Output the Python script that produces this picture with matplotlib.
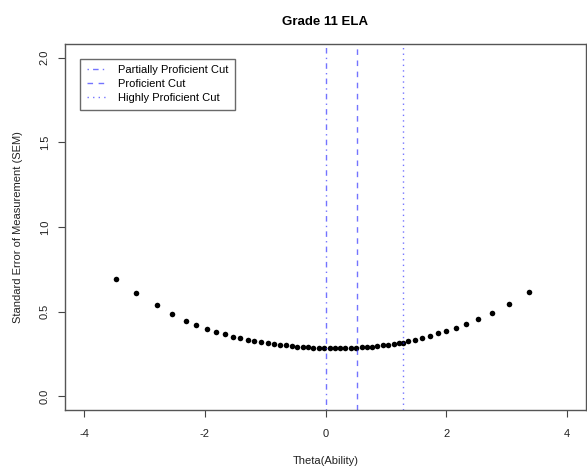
import matplotlib
matplotlib.use("Agg")
import matplotlib.pyplot as plt

# SEM at each theta point
theta = [-3.48, -3.14, -2.80, -2.55, -2.32, -2.14, -1.97, -1.81, -1.67, -1.54,
         -1.41, -1.29, -1.18, -1.07, -0.96, -0.86, -0.76, -0.66, -0.56, -0.47,
         -0.38, -0.29, -0.20, -0.11, -0.02, 0.07, 0.15, 0.24, 0.33, 0.42,
         0.51, 0.60, 0.69, 0.77, 0.86, 0.95, 1.04, 1.13, 1.22, 1.28,
         1.37, 1.48, 1.60, 1.73, 1.87, 2.00, 2.17, 2.33, 2.53, 2.76,
         3.04, 3.37]
sem = [0.696, 0.608, 0.537, 0.488, 0.447, 0.422, 0.398, 0.380, 0.367, 0.353,
       0.343, 0.333, 0.325, 0.320, 0.314, 0.310, 0.306, 0.302, 0.298, 0.294,
       0.292, 0.290, 0.288, 0.286, 0.286, 0.284, 0.284, 0.286, 0.286, 0.288,
       0.288, 0.290, 0.292, 0.294, 0.298, 0.302, 0.306, 0.310, 0.314, 0.318,
       0.325, 0.333, 0.343, 0.357, 0.373, 0.386, 0.404, 0.427, 0.457, 0.492,
       0.545, 0.618]

cut_names = ["Partially Proficient Cut", "Proficient Cut", "Highly Proficient Cut"]
cut_values = [0.0, 0.53, 1.29]
cut_styles = [(0, (1, 3, 4, 3)), (0, (4, 4)), (0, (1, 3))]

xticks = [-4, -2, 0, 2, 4]
yticks = [0.0, 0.5, 1.0, 1.5, 2.0]

plt.rcParams["font.family"] = ["Liberation Sans", "DejaVu Sans"]

fig = plt.figure(figsize=(5.87, 4.76), dpi=100)
ax = fig.add_axes([65 / 587, 66 / 476, 521 / 587, 366 / 476])

ax.plot(theta, sem, "o", color="black", markersize=4, markeredgewidth=0)

for name, val, ls in zip(cut_names, cut_values, cut_styles):
    ax.axvline(val, color="#2a2aff", alpha=0.65, linestyle=ls, linewidth=1.0, label=name)

ax.set_xlim(-4.32, 4.32)
ax.set_ylim(-0.08, 2.08)
ax.set_xticks(xticks)
ax.set_xticklabels([str(t) for t in xticks])
ax.set_yticks(yticks)
ax.set_yticklabels([f"{t:.1f}" for t in yticks], rotation=90, va="center")
ax.tick_params(axis="x", pad=9)
ax.tick_params(direction="out", length=5, width=0.8, color="#444444",
               labelsize=8, labelcolor="#222222")
ax.tick_params(axis="y", pad=6)
for s in ax.spines.values():
    s.set_color("#555555")
    s.set_linewidth(1.0)

ax.set_xlabel("Theta(Ability)", fontsize=8, color="#222222", labelpad=12)
ax.set_ylabel("Standard Error of Measurement (SEM)", fontsize=8, color="#222222", labelpad=12)
ax.set_title("Grade 11 ELA", fontsize=9.5, fontweight="bold", pad=14)

leg = ax.legend(loc="upper left", fontsize=8, frameon=True, fancybox=False,
                edgecolor="#444444", handlelength=1.8, borderpad=0.6,
                labelspacing=0.35, handletextpad=1.0,
                bbox_to_anchor=(0.019, 0.975))
leg.get_frame().set_linewidth(1.0)

fig.savefig("out.png", dpi=100)
